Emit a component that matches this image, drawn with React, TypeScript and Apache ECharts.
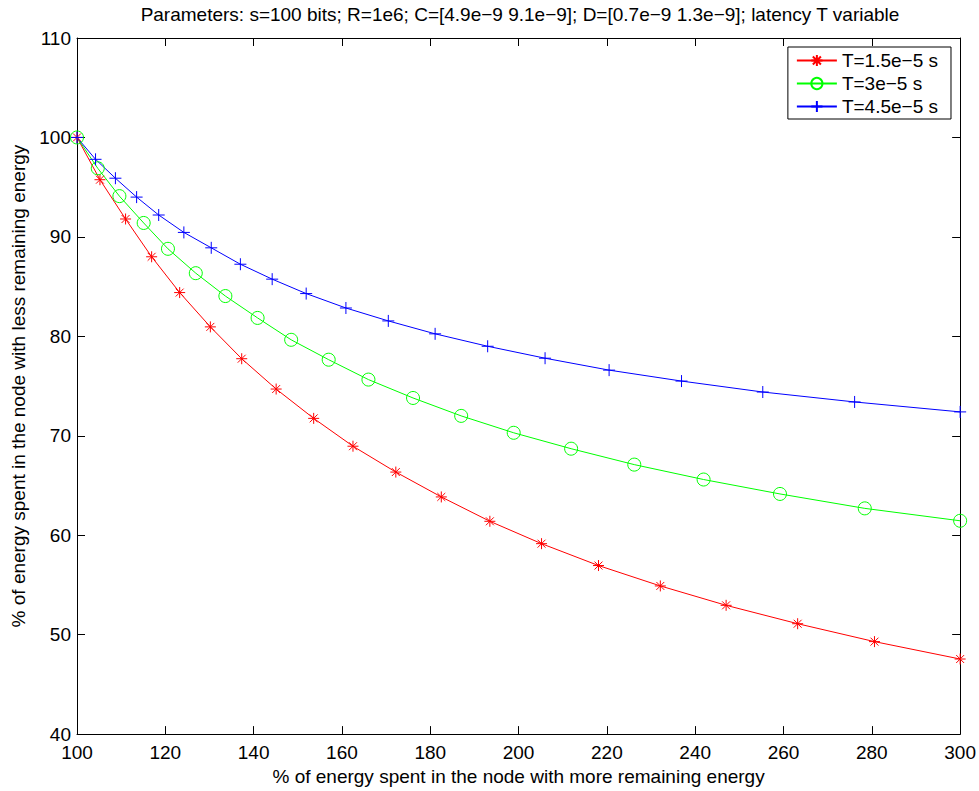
import React, { useEffect, useRef } from "react";
import * as echarts from "echarts";

const titleText =
  "Parameters: s=100 bits; R=1e6; C=[4.9e\u22129 9.1e\u22129]; D=[0.7e\u22129 1.3e\u22129]; latency T variable";
const xName = "% of energy spent in the node with more remaining energy";
const yName = "% of energy spent in the node with less remaining energy";

const seriesNames = ["T=1.5e\u22125 s", "T=3e\u22125 s", "T=4.5e\u22125 s"];

const redX = [100, 105.2, 111.0, 116.9, 123.25, 130.2, 137.3, 145.1, 153.6, 162.5, 172.2, 182.5, 193.5, 205.2, 218.1, 232.1, 247.0, 263.2, 280.6, 300];
const redY = [100, 95.75, 91.8, 88.0, 84.4, 80.95, 77.75, 74.7, 71.75, 68.95, 66.35, 63.85, 61.4, 59.15, 56.95, 54.9, 52.95, 51.1, 49.3, 47.55];

const greenX = [100, 104.7, 109.6, 115.1, 120.6, 126.9, 133.6, 140.9, 148.5, 157.0, 166.0, 176.1, 187.0, 198.9, 211.9, 226.2, 241.9, 259.2, 278.4, 300];
const greenY = [100, 96.9, 94.1, 91.4, 88.8, 86.35, 84.05, 81.85, 79.65, 77.65, 75.65, 73.8, 72.0, 70.3, 68.7, 67.1, 65.6, 64.15, 62.7, 61.45];

const blueX = [100, 104.2, 108.7, 113.5, 118.5, 124.2, 130.4, 137.0, 144.2, 151.9, 160.9, 170.5, 181.1, 193.0, 206.0, 220.5, 236.9, 255.3, 276.1, 300];
const blueY = [100, 97.8, 95.9, 94.0, 92.2, 90.45, 88.9, 87.25, 85.75, 84.3, 82.85, 81.55, 80.25, 79.0, 77.8, 76.6, 75.5, 74.4, 73.4, 72.4];

const FONT = "'Liberation Sans', Arial, Helvetica, sans-serif";

const STAR = "path://M0,-5L0,5M-5,0L5,0M-3.6,-3.6L3.6,3.6M-3.6,3.6L3.6,-3.6";
const PLUS = "path://M0,-5L0,5M-5,0L5,0";

function zip(xs: number[], ys: number[]) {
  return xs.map((x, i) => [x, ys[i]]);
}

export default function App() {
  const ref = useRef<HTMLDivElement>(null);
  useEffect(() => {
    if (!ref.current) return;
    const chart = echarts.init(ref.current, undefined, { renderer: "svg" });
    const axisCommon = {
      type: "value" as const,
      splitLine: { show: false },
      axisLine: { show: true, lineStyle: { color: "#000", width: 1 } },
      axisTick: { show: true, inside: true, length: 8, lineStyle: { color: "#000", width: 1 } },
    };
    const mk = (name: string, color: string, symbol: string, size: number, xs: number[], ys: number[]) => ({
      type: "line",
      name,
      data: zip(xs, ys),
      xAxisIndex: 0,
      yAxisIndex: 0,
      symbol,
      symbolSize: size,
      showSymbol: true,
      lineStyle: { color, width: 1 },
      itemStyle: { color: symbol === "circle" ? "rgba(0,0,0,0)" : color, borderColor: color, borderWidth: 1 },
      emphasis: { disabled: true },
    });
    chart.setOption({
      animation: false,
      backgroundColor: "#fff",
      title: {
        text: titleText,
        left: 520,
        top: 5,
        padding: 0,
        textAlign: "center",
        textStyle: { fontFamily: FONT, fontSize: 19, fontWeight: "normal", color: "#000" },
      },
      legend: {
        orient: "vertical",
        right: 28,
        top: 47,
        padding: [4, 13, 3, 8],
        itemGap: 4,
        itemWidth: 40,
        itemHeight: 14,
        backgroundColor: "#fff",
        borderColor: "#000",
        borderWidth: 1,
        borderRadius: 0,
        textStyle: { fontFamily: FONT, fontSize: 19, color: "#000" },
        data: seriesNames,
      },
      grid: { left: 77, right: 16, top: 38, bottom: 56, containLabel: false },
      xAxis: [
        {
          ...axisCommon,
          min: 100,
          max: 300,
          interval: 20,
          position: "bottom",
          name: xName,
          nameLocation: "middle",
          nameGap: 30,
          nameTextStyle: { fontFamily: FONT, fontSize: 19, color: "#000" },
          axisLabel: { fontFamily: FONT, fontSize: 19, color: "#000", margin: 9 },
        },
        {
          ...axisCommon,
          min: 100,
          max: 300,
          interval: 20,
          position: "top",
          axisLabel: { show: false },
        },
      ],
      yAxis: [
        {
          ...axisCommon,
          min: 40,
          max: 110,
          interval: 10,
          position: "left",
          name: yName,
          nameLocation: "middle",
          nameGap: 44,
          nameTextStyle: { fontFamily: FONT, fontSize: 19, color: "#000" },
          axisLabel: { fontFamily: FONT, fontSize: 19, color: "#000", margin: 6 },
        },
        {
          ...axisCommon,
          min: 40,
          max: 110,
          interval: 10,
          position: "right",
          axisLabel: { show: false },
        },
      ],
      series: [
        mk(seriesNames[0], "#ff0000", STAR, 11, redX, redY),
        mk(seriesNames[1], "#00ff00", "circle", 13, greenX, greenY),
        mk(seriesNames[2], "#0000ff", PLUS, 12, blueX, blueY),
      ],
    });
    return () => chart.dispose();
  }, []);
  return (
    <div
      ref={ref}
      style={{ position: "fixed", left: 0, top: 0, width: 979, height: 791, background: "#fff" }}
    />
  );
}
